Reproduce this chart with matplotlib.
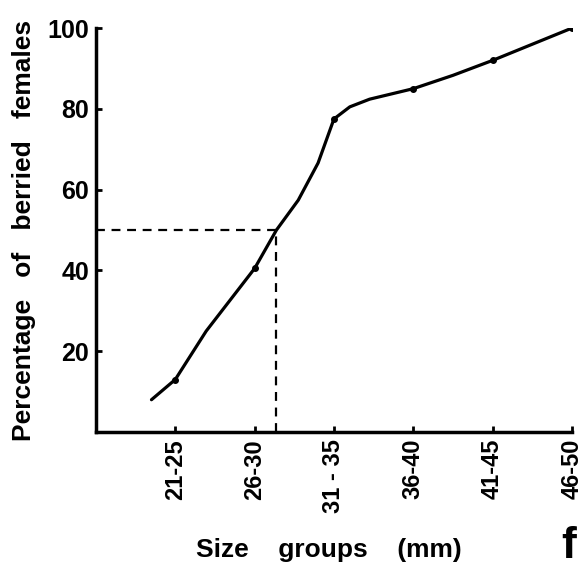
import matplotlib.pyplot as plt

# size groups and percentage of berried females
groups = ["21-25", "26-30", "31 - 35", "36-40", "41-45", "46-50"]
percent = [13, 40.5, 77.5, 85, 92, 100]

# hand-drawn curve traced through the points
curve_x = [0.7, 1.0, 1.39, 2.0, 2.275, 2.55, 2.8, 3.0, 3.2, 3.45, 4.0, 4.5, 5.0, 6.0]
curve_y = [8, 13, 25, 40.5, 50, 57.4, 66.6, 77.5, 80.5, 82.4, 85, 88.3, 92, 100]

# size at 50% maturity
half_x = 2.275
half_y = 50

plt.rcParams['font.family'] = ['Liberation Sans', 'DejaVu Sans']
plt.rcParams['font.weight'] = 'bold'
plt.rcParams['axes.labelweight'] = 'bold'

fig = plt.figure(figsize=(5.85, 5.73), dpi=100)
ax = fig.add_axes([0.164, 0.246, 0.8137, 0.705])

xs = list(range(1, len(groups) + 1))
ax.plot(curve_x, curve_y, color='black', lw=2.3, solid_capstyle='round',
        solid_joinstyle='round')
ax.plot(xs, percent, 'o', color='black', markersize=4)

# dashed guide lines at 50%
ax.plot([0, half_x], [half_y, half_y], color='black', lw=1.6, ls=(0, (4, 3)))
ax.plot([half_x, half_x], [0, half_y], color='black', lw=1.6, ls=(0, (4, 3)))

ax.set_xlim(0, 6)
ax.set_ylim(0, 100)
ax.set_xticks(xs)
ax.set_xticklabels(groups, rotation=90, fontsize=17)
ax.set_yticks([20, 40, 60, 80, 100])
ax.set_yticklabels(['20', '40', '60', '80', '100'], fontsize=18)

for s in ['top', 'right']:
    ax.spines[s].set_visible(False)
for s in ['left', 'bottom']:
    ax.spines[s].set_linewidth(2.5)
ax.tick_params(direction='in', length=4, width=2, pad=5)

ax.set_ylabel("Percentage   of   berried   females", fontsize=19, labelpad=8)
fig.text(0.562, 0.04, "Size    groups    (mm)", fontsize=19, ha='center', va='center')
fig.text(0.972, 0.01, "f", fontsize=32, ha='center', va='bottom')

fig.savefig('out.png', dpi=100)
